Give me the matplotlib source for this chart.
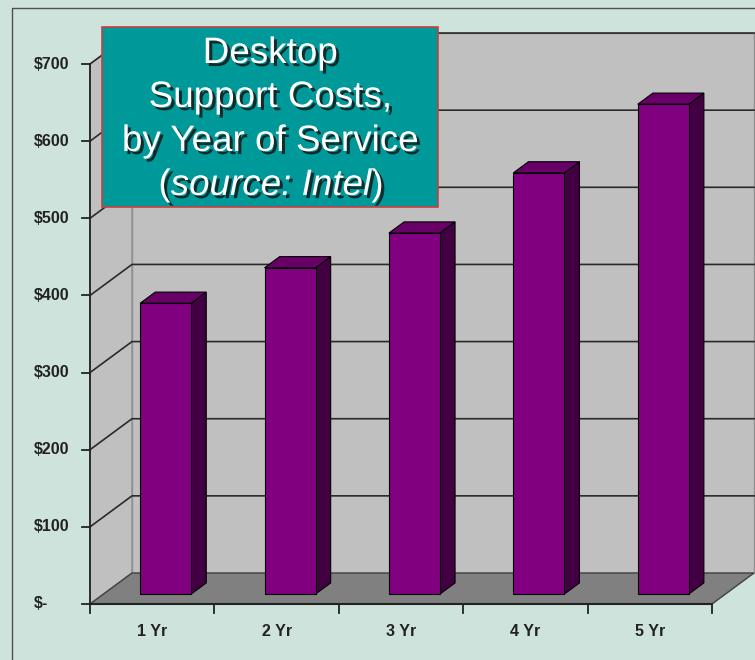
import matplotlib
matplotlib.use("Agg")
import matplotlib.pyplot as plt
from matplotlib.patches import Polygon, Rectangle
from matplotlib.lines import Line2D
import matplotlib.patheffects as pe

# data
categories = ['1 Yr', '2 Yr', '3 Yr', '4 Yr', '5 Yr']
costs = [377, 423, 468, 546, 635]
yticks = [0, 100, 200, 300, 400, 500, 600, 700]
ytick_labels = ['$-', '$100', '$200', '$300', '$400', '$500', '$600', '$700']
title_lines = ['Desktop', 'Support Costs,', 'by Year of Service']

W, H = 755, 660
PX_CAT = 124.4     # pixels per category slot
PX_USD = 0.7714    # pixels per dollar
X0, Y0 = 90, 604   # pixel pos of origin (from top)
DX = 42 / PX_CAT   # depth offset in category units
DY = 31 / PX_USD   # depth offset in dollar units
YMAX = 700

bg = '#cde3db'
wall = '#c0c0c0'
floor = '#808080'
front = '#800080'
side = '#420042'
top = '#680068'

fig = plt.figure(figsize=(W / 100, H / 100), dpi=100, facecolor=bg)
ax = fig.add_axes([0, 0, 1, 1])
ax.set_xlim(-X0 / PX_CAT, (W - X0) / PX_CAT)
ax.set_ylim(-(H - Y0) / PX_USD, Y0 / PX_USD)
ax.axis('off')


def P(x, y, d):
    return (x + d * DX, y + d * DY)


def ff(px, py):
    # pixel (from top-left) -> figure fraction
    return px / W, 1 - py / H


n = len(categories)

# walls and floor
ax.add_patch(Polygon([P(0, 0, 0), P(0, YMAX, 0), P(0, YMAX, 1), P(0, 0, 1)],
                     facecolor=wall, edgecolor='#909090', lw=1, zorder=1))
ax.add_patch(Polygon([P(0, 0, 1), P(0, YMAX, 1), P(n, YMAX, 1), P(n, 0, 1)],
                     facecolor=wall, edgecolor='#909090', lw=1, zorder=1))
ax.add_patch(Polygon([P(0, 0, 0), P(n, 0, 0), P(n, 0, 1), P(0, 0, 1)],
                     facecolor=floor, edgecolor='#404040', lw=1, zorder=2))

# gridlines on left and back walls
for v in yticks[1:]:
    a, b, c = P(0, v, 0), P(0, v, 1), P(n, v, 1)
    ax.plot([a[0], b[0], c[0]], [a[1], b[1], c[1]], color='#2a2a2a', lw=1.2, zorder=2)

# axes lines and ticks
ax.plot([0, 0], [0, YMAX], color='#222222', lw=1.3, zorder=3)
ax.plot([0, n], [0, 0], color='#222222', lw=1.5, zorder=3)
for v, lab in zip(yticks, ytick_labels):
    ax.plot([-8 / PX_CAT, 0], [v, v], color='#222222', lw=1.3, zorder=3)
    ax.text(-56 / PX_CAT, v, lab, ha='left', va='center', fontsize=11.5,
            fontweight='bold', family='Liberation Sans', color='#222222',
            parse_math=False)
for i in range(n + 1):
    ax.plot([i, i], [0, -9 / PX_USD], color='#222222', lw=1.3, zorder=3)
for i, lab in enumerate(categories):
    ax.text(i + 0.5, -27 / PX_USD, lab, ha='center', va='center', fontsize=11.5,
            fontweight='bold', family='Liberation Sans', color='#222222')

# 3d bars
hw = 0.205
d0, d1 = 0.32, 0.68
for i, v in enumerate(costs):
    xl, xr = i + 0.5 - hw, i + 0.5 + hw
    ax.add_patch(Polygon([P(xr, 0, d0), P(xr, 0, d1), P(xr, v, d1), P(xr, v, d0)],
                         facecolor=side, edgecolor='black', lw=0.8, zorder=4))
    ax.add_patch(Polygon([P(xl, v, d0), P(xr, v, d0), P(xr, v, d1), P(xl, v, d1)],
                         facecolor=top, edgecolor='black', lw=0.8, zorder=4))
    ax.add_patch(Polygon([P(xl, 0, d0), P(xr, 0, d0), P(xr, v, d0), P(xl, v, d0)],
                         facecolor=front, edgecolor='black', lw=0.8, zorder=5))

# title box
x1, y1 = ff(102, 207)
x2, y2 = ff(438, 27)
fig.add_artist(Rectangle((x1, y1), x2 - x1, y2 - y1, transform=fig.transFigure,
                         facecolor='#009999', edgecolor='#c84040', lw=1.2, zorder=10))
shadow = [pe.SimplePatchShadow(offset=(2.2, -2.2), shadow_rgbFace='#102020', alpha=0.9),
          pe.Normal()]
tkw = dict(fontsize=26.5, family='Liberation Sans', color='white', zorder=11,
           va='baseline', path_effects=shadow)
for k, line in enumerate(title_lines):
    fig.text(*ff(270, 63 + 44 * k), line, ha='center', **tkw)
mid = fig.text(*ff(271, 195), 'source: Intel', ha='center', style='italic', **tkw)
yb = ff(0, 195)[1]
fig.add_artist(plt.Annotation('(', xy=(0, yb), xycoords=(mid, 'figure fraction'),
                              ha='right', **tkw))
fig.add_artist(plt.Annotation(')', xy=(1, yb), xycoords=(mid, 'figure fraction'),
                              ha='left', **tkw))

# outer frame
fx, fy = ff(12, 8)
fig.add_artist(Line2D([fx, fx, 1], [0, fy, fy], transform=fig.transFigure,
                      color='#505050', lw=1))

fig.savefig('out.png', dpi=100, facecolor=bg)
